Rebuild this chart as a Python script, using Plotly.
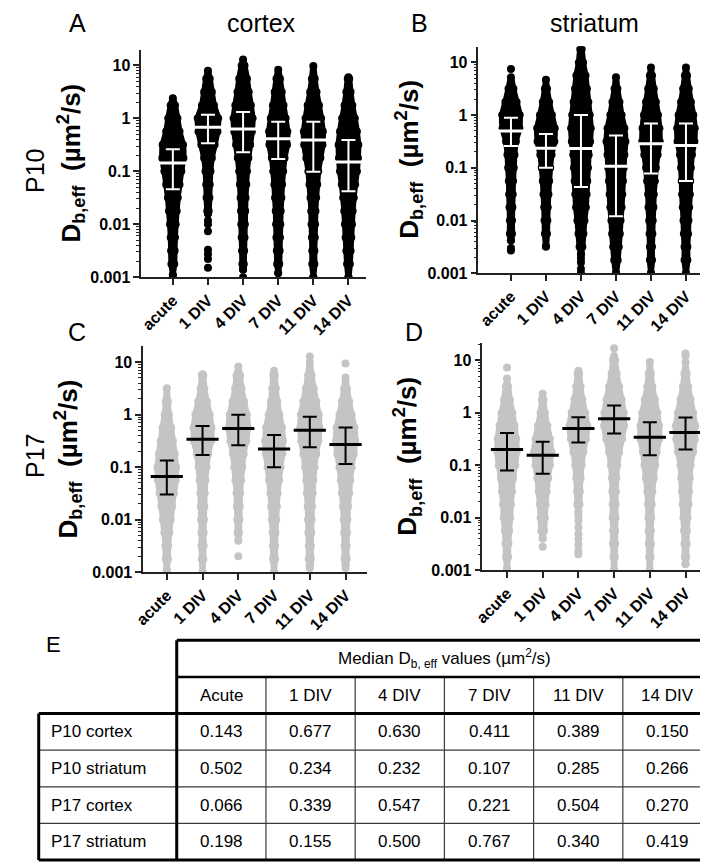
import math
import plotly.graph_objects as go

W, H = 708, 866
FONT = "Liberation Sans, Arial, Helvetica, sans-serif"
N = None

CATEGORIES = ["acute", "1 DIV", "4 DIV", "7 DIV", "11 DIV", "14 DIV"]
TABLE_COLS = ["Acute", "1 DIV", "4 DIV", "7 DIV", "11 DIV", "14 DIV"]
TABLE_ROWS = ["P10 cortex", "P10 striatum", "P17 cortex", "P17 striatum"]
Y_TICKS = [0.001, 0.01, 0.1, 1, 10]
Y_TICKTEXT = ["0.001", "0.01", "0.1", "1", "10"]

# log10 levels at which the swarm half-widths (in category units) were read
LOG_LEVELS = [-3.0, -2.75, -2.5, -2.25, -2.0, -1.75, -1.5, -1.25, -1.0,
              -0.75, -0.5, -0.25, 0.0, 0.25, 0.5, 0.75, 1.0, 1.25]

# ---------------- P10 cortex (A) ----------------
P10_CTX_MEDIAN = [0.143, 0.677, 0.630, 0.411, 0.389, 0.150]
P10_CTX_Q1 = [0.046, 0.34, 0.23, 0.17, 0.098, 0.042]
P10_CTX_Q3 = [0.26, 1.17, 1.32, 0.86, 0.86, 0.39]
P10_CTX_LOW = [0.0011, 0.016, 0.0014, 0.0012, 0.001, 0.001]
P10_CTX_HIGH = [2.4, 7.9, 13.0, 8.3, 9.8, 6.0]
P10_CTX_WIDTH = [
    [0.09, 0.10, 0.11, 0.12, 0.14, 0.17, 0.20, 0.25, 0.30, 0.36, 0.35, 0.25, 0.19, 0.12, N, N, N, N],
    [N, N, N, N, N, 0.08, 0.10, 0.11, 0.13, 0.17, 0.25, 0.33, 0.35, 0.23, 0.17, 0.11, N, N],
    [N, 0.08, 0.09, 0.10, 0.11, 0.12, 0.13, 0.15, 0.17, 0.21, 0.26, 0.31, 0.33, 0.28, 0.22, 0.17, 0.10, N],
    [N, 0.09, 0.10, 0.11, 0.12, 0.13, 0.15, 0.17, 0.20, 0.24, 0.31, 0.32, 0.27, 0.21, 0.16, 0.11, N, N],
    [N, 0.09, 0.09, 0.10, 0.11, 0.12, 0.14, 0.17, 0.20, 0.26, 0.32, 0.33, 0.28, 0.22, 0.15, 0.10, N, N],
    [N, 0.10, 0.12, 0.14, 0.16, 0.18, 0.21, 0.25, 0.30, 0.33, 0.34, 0.30, 0.24, 0.17, 0.12, 0.08, N, N],
]
P10_CTX_OUTLIERS = [[], [0.0118, 0.010, 0.0074, 0.0033, 0.0027, 0.0022, 0.0015], [0.001], [], [], []]

# ---------------- P10 striatum (B) ----------------
P10_STR_MEDIAN = [0.502, 0.234, 0.232, 0.107, 0.285, 0.266]
P10_STR_Q1 = [0.26, 0.10, 0.043, 0.012, 0.078, 0.056]
P10_STR_Q3 = [0.89, 0.44, 1.0, 0.41, 0.69, 0.69]
P10_STR_LOW = [0.0042, 0.0032, 0.0023, 0.001, 0.001, 0.001]
P10_STR_HIGH = [5.2, 4.7, 18.0, 5.2, 8.0, 8.0]
P10_STR_WIDTH = [
    [N, N, N, 0.09, 0.09, 0.10, 0.11, 0.12, 0.14, 0.16, 0.20, 0.30, 0.31, 0.22, 0.13, N, N, N],
    [N, N, N, 0.09, 0.10, 0.11, 0.13, 0.15, 0.18, 0.22, 0.30, 0.31, 0.23, 0.15, 0.09, N, N, N],
    [N, N, 0.10, 0.13, 0.16, 0.20, 0.22, 0.24, 0.26, 0.28, 0.32, 0.34, 0.31, 0.27, 0.23, 0.19, 0.12, 0.08],
    [N, 0.11, 0.14, 0.17, 0.19, 0.22, 0.24, 0.26, 0.28, 0.30, 0.33, 0.30, 0.22, 0.16, 0.10, N, N, N],
    [N, 0.09, 0.09, 0.10, 0.11, 0.13, 0.14, 0.17, 0.20, 0.25, 0.31, 0.30, 0.26, 0.20, 0.14, 0.09, N, N],
    [N, 0.10, 0.10, 0.12, 0.13, 0.15, 0.17, 0.18, 0.20, 0.23, 0.30, 0.31, 0.27, 0.20, 0.14, 0.09, N, N],
]
P10_STR_OUTLIERS = [[7.5, 0.003, 0.0027], [], [0.0019, 0.0016, 0.0012, 0.001], [], [], []]

# ---------------- P17 cortex (C) ----------------
P17_CTX_MEDIAN = [0.066, 0.339, 0.547, 0.221, 0.504, 0.270]
P17_CTX_Q1 = [0.030, 0.17, 0.26, 0.10, 0.24, 0.115]
P17_CTX_Q3 = [0.134, 0.61, 1.0, 0.41, 0.91, 0.57]
P17_CTX_LOW = [0.0011, 0.001, 0.004, 0.001, 0.0014, 0.0014]
P17_CTX_HIGH = [3.2, 5.9, 8.3, 6.9, 10.0, 5.1]
P17_CTX_WIDTH = [
    [N, 0.09, 0.10, 0.13, 0.17, 0.21, 0.26, 0.31, 0.32, 0.28, 0.23, 0.18, 0.12, 0.09, N, N, N, N],
    [N, 0.08, 0.09, 0.09, 0.10, 0.11, 0.12, 0.14, 0.17, 0.22, 0.30, 0.31, 0.26, 0.18, 0.11, 0.08, N, N],
    [N, N, N, 0.08, 0.09, 0.10, 0.11, 0.14, 0.17, 0.21, 0.28, 0.33, 0.30, 0.22, 0.15, 0.11, N, N],
    [N, 0.09, 0.09, 0.10, 0.12, 0.14, 0.16, 0.20, 0.24, 0.29, 0.31, 0.28, 0.21, 0.15, 0.11, 0.08, N, N],
    [N, 0.09, 0.09, 0.10, 0.11, 0.12, 0.14, 0.16, 0.19, 0.24, 0.30, 0.33, 0.31, 0.24, 0.17, 0.11, N, N],
    [N, 0.09, 0.09, 0.10, 0.11, 0.13, 0.16, 0.19, 0.23, 0.29, 0.33, 0.31, 0.23, 0.16, 0.10, N, N, N],
]
P17_CTX_OUTLIERS = [[], [], [0.002], [], [12.8, 0.0012], [9.4, 0.0012]]

# ---------------- P17 striatum (D) ----------------
P17_STR_MEDIAN = [0.198, 0.155, 0.500, 0.767, 0.340, 0.419]
P17_STR_Q1 = [0.079, 0.069, 0.27, 0.40, 0.155, 0.20]
P17_STR_Q3 = [0.41, 0.28, 0.82, 1.38, 0.66, 0.81]
P17_STR_LOW = [0.0011, 0.004, 0.013, 0.001, 0.001, 0.0013]
P17_STR_HIGH = [3.5, 2.3, 6.3, 12.0, 9.3, 9.1]
P17_STR_WIDTH = [
    [N, 0.09, 0.10, 0.12, 0.15, 0.17, 0.20, 0.23, 0.29, 0.33, 0.32, 0.27, 0.21, 0.14, 0.09, N, N, N],
    [N, N, N, 0.10, 0.12, 0.14, 0.17, 0.21, 0.26, 0.30, 0.26, 0.19, 0.12, 0.08, N, N, N, N],
    [N, N, N, N, N, 0.09, 0.10, 0.12, 0.15, 0.20, 0.27, 0.31, 0.25, 0.17, 0.12, 0.08, N, N],
    [N, 0.08, 0.09, 0.09, 0.10, 0.10, 0.11, 0.12, 0.15, 0.20, 0.28, 0.34, 0.33, 0.27, 0.20, 0.13, 0.09, N],
    [N, 0.08, 0.09, 0.09, 0.10, 0.11, 0.13, 0.17, 0.21, 0.25, 0.32, 0.32, 0.27, 0.20, 0.13, 0.09, N, N],
    [N, 0.08, 0.09, 0.10, 0.12, 0.14, 0.16, 0.18, 0.20, 0.27, 0.32, 0.33, 0.27, 0.20, 0.13, 0.09, N, N],
]
P17_STR_OUTLIERS = [[7.3, 4.5], [0.0028], [0.0107, 0.0087, 0.0065, 0.0049, 0.0039, 0.003, 0.0023, 0.002],
                    [17.0], [], [13.5, 12.0]]

BLACK = "#000000"
GREY = "#c4c4c4"
WHITE = "#ffffff"
DOT = 8          # dot diameter (px)
DOT_R = 0.06     # inset of the outline in category units
EDGE_W = 6       # outline stroke (px)


def px_x(p):
    return p / W


def px_y(p):
    return 1 - p / H


def outline(i, low, high, widths):
    lo, hi = math.log10(low), math.log10(high)
    pts = [(L, w) for L, w in zip(LOG_LEVELS, widths) if w is not None and lo < L < hi]
    xs, ys = [i], [low]
    for L, w in pts:
        xs.append(i + max(w - DOT_R, 0.0))
        ys.append(10 ** L)
    xs.append(i)
    ys.append(high)
    for L, w in reversed(pts):
        xs.append(i - max(w - DOT_R, 0.0))
        ys.append(10 ** L)
    xs.append(i)
    ys.append(low)
    return xs, ys


PANELS = [
    dict(sfx="", xd=(125, 353), yd=(42, 272), xr=(-0.9, 5.5), ytop=1.30,
         med=P10_CTX_MEDIAN, q1=P10_CTX_Q1, q3=P10_CTX_Q3, low=P10_CTX_LOW, high=P10_CTX_HIGH,
         wid=P10_CTX_WIDTH, out=P10_CTX_OUTLIERS, col=BLACK, bar=WHITE),
    dict(sfx="2", xd=(467, 707), yd=(39, 268), xr=(-0.93, 5.83), ytop=1.30,
         med=P10_STR_MEDIAN, q1=P10_STR_Q1, q3=P10_STR_Q3, low=P10_STR_LOW, high=P10_STR_HIGH,
         wid=P10_STR_WIDTH, out=P10_STR_OUTLIERS, col=BLACK, bar=WHITE),
    dict(sfx="3", xd=(127, 354), yd=(342, 570), xr=(-0.66, 5.6), ytop=1.30,
         med=P17_CTX_MEDIAN, q1=P17_CTX_Q1, q3=P17_CTX_Q3, low=P17_CTX_LOW, high=P17_CTX_HIGH,
         wid=P17_CTX_WIDTH, out=P17_CTX_OUTLIERS, col=GREY, bar=BLACK),
    dict(sfx="4", xd=(471, 697), yd=(339, 568), xr=(-0.69, 5.55), ytop=1.32,
         med=P17_STR_MEDIAN, q1=P17_STR_Q1, q3=P17_STR_Q3, low=P17_STR_LOW, high=P17_STR_HIGH,
         wid=P17_STR_WIDTH, out=P17_STR_OUTLIERS, col=GREY, bar=BLACK),
]

fig = go.Figure()
layout = dict(
    width=W, height=H, margin=dict(l=0, r=0, t=0, b=0),
    paper_bgcolor="white", plot_bgcolor="rgba(0,0,0,0)", showlegend=False,
    font=dict(family=FONT, color="black"),
)

MINOR = [m * 10.0 ** e for e in range(-3, 2) for m in range(2, 10)]

for p in PANELS:
    xa, ya = "x" + p["sfx"], "y" + p["sfx"]
    for i in range(len(CATEGORIES)):
        xs, ys = outline(i, p["low"][i], p["high"][i], p["wid"][i])
        fig.add_trace(go.Scatter(
            x=xs, y=ys, xaxis=xa, yaxis=ya, mode="lines+markers", fill="toself",
            fillcolor=p["col"], line=dict(color=p["col"], width=EDGE_W, shape="spline", smoothing=0.6),
            marker=dict(size=DOT, color=p["col"], line=dict(width=0)),
            hoverinfo="skip"))
    ox, oy = [], []
    for i, vals in enumerate(p["out"]):
        ox += [i] * len(vals)
        oy += vals
    fig.add_trace(go.Scatter(x=ox, y=oy, xaxis=xa, yaxis=ya, mode="markers",
                             marker=dict(size=DOT, color=p["col"], line=dict(width=0)),
                             hoverinfo="skip"))
    fig.add_trace(go.Scatter(
        x=list(range(len(CATEGORIES))), y=p["med"], xaxis=xa, yaxis=ya, mode="markers",
        marker=dict(symbol="line-ew", size=23, color=p["bar"], line=dict(width=3, color=p["bar"])),
        error_y=dict(type="data", symmetric=False,
                     array=[h - m for h, m in zip(p["q3"], p["med"])],
                     arrayminus=[m - l for m, l in zip(p["med"], p["q1"])],
                     width=7, thickness=2, color=p["bar"]),
        hoverinfo="skip"))
    xkey = "xaxis" + p["sfx"]
    ykey = "yaxis" + p["sfx"]
    layout[xkey] = dict(
        domain=[px_x(p["xd"][0]), px_x(p["xd"][1])], range=list(p["xr"]), anchor=ya,
        tickmode="array", tickvals=list(range(len(CATEGORIES))), ticktext=CATEGORIES,
        tickangle=-45, ticks="outside", ticklen=6, tickwidth=1.5, tickcolor="#222",
        showline=True, linecolor="#222", linewidth=1.5, showgrid=False, zeroline=False,
        tickfont=dict(family=FONT, size=16, weight="bold", color="black"), fixedrange=True)
    layout[ykey] = dict(
        domain=[px_y(p["yd"][1]), px_y(p["yd"][0])], type="log", range=[-3, p["ytop"]], anchor=xa,
        tickmode="array", tickvals=Y_TICKS, ticktext=Y_TICKTEXT,
        ticks="outside", ticklen=6, tickwidth=1.5, tickcolor="#222",
        minor=dict(tickmode="array", tickvals=MINOR, ticks="outside", ticklen=3, tickwidth=1, tickcolor="#222"),
        showline=True, linecolor="#222", linewidth=1.5, showgrid=False, zeroline=False,
        tickfont=dict(family=FONT, size=16, weight="bold", color="black"), fixedrange=True)

# ---------------- table (E) ----------------
TABLE_VALUES = [P10_CTX_MEDIAN, P10_STR_MEDIAN, P17_CTX_MEDIAN, P17_STR_MEDIAN]
LABEL_W = 1.547
COL_PX = 90.5
ROW_PX = 37.0
PADX, PADY = 0.04, 0.1
layout["xaxis5"] = dict(domain=[px_x(21 - PADX * COL_PX), px_x(704 + PADX * COL_PX)],
                        range=[-LABEL_W - PADX, 6 + PADX], visible=False, anchor="y5", fixedrange=True)
layout["yaxis5"] = dict(domain=[px_y(861 + PADY * ROW_PX), px_y(639 - PADY * ROW_PX)],
                        range=[6 + PADY, -PADY], visible=False, anchor="x5", fixedrange=True)

THIN = dict(color="#3a3a3a", width=1.2)
THICK = dict(color="black", width=3)
shapes = []


def seg(x0, y0, x1, y1, line):
    shapes.append(dict(type="line", xref="x5", yref="y5", x0=x0, y0=y0, x1=x1, y1=y1,
                       line=line, layer="above"))


for c in range(1, 6):
    seg(c, 1, c, 6, THIN)
for r in range(3, 6):
    seg(-LABEL_W, r, 6, r, THIN)
seg(0, 1, 6, 1, dict(color="black", width=2.5))
seg(0, 0, 6, 0, THICK)
seg(0, 0, 0, 6, THICK)
seg(6, 0, 6, 6, THICK)
seg(-LABEL_W, 2, 6, 2, THICK)
seg(-LABEL_W, 6, 6, 6, THICK)
seg(-LABEL_W, 2, -LABEL_W, 6, THICK)
layout["shapes"] = shapes

TFONT = dict(family=FONT, size=17, color="black")
ann = []
ann.append(dict(xref="x5", yref="y5", x=3, y=0.5, showarrow=False, font=TFONT,
                text="Median D<sub>b, eff</sub> values (\u00b5m<sup>2</sup>/s)"))
for c, name in enumerate(TABLE_COLS):
    ann.append(dict(xref="x5", yref="y5", x=c + 0.5, y=1.5, text=name, showarrow=False, font=TFONT))
for r, (name, vals) in enumerate(zip(TABLE_ROWS, TABLE_VALUES)):
    ann.append(dict(xref="x5", yref="y5", x=-LABEL_W, y=r + 2.5, text=name, showarrow=False,
                    xanchor="left", xshift=10, font=TFONT))
    for c, v in enumerate(vals):
        ann.append(dict(xref="x5", yref="y5", x=c + 0.5, y=r + 2.5, text=f"{v:.3f}",
                        showarrow=False, font=TFONT))


def label(x, y, text, size, angle=0, weight="normal"):
    ann.append(dict(xref="paper", yref="paper", x=px_x(x), y=px_y(y), text=text, showarrow=False,
                    textangle=angle, xanchor="center", yanchor="middle",
                    font=dict(family=FONT, size=size, color="black", weight=weight)))


label(60, 15, "A", 25)
label(407, 15, "B", 25)
label(60, 327, "C", 25)
label(402, 327, "D", 25)
label(36, 643, "E", 22)
label(247, 15, "cortex", 25)
label(585, 15, "striatum", 25)
label(18, 165, "P10", 25, angle=-90)
label(18, 453, "P17", 25, angle=-90)
YLAB = "D<sub>b,eff</sub>\u00a0\u00a0(\u00b5m<sup>2</sup>/s)"
label(54, 157, YLAB, 26, angle=-90, weight="bold")
label(397, 153, YLAB, 26, angle=-90, weight="bold")
label(51, 456, YLAB, 26, angle=-90, weight="bold")
label(395, 453, YLAB, 26, angle=-90, weight="bold")

layout["annotations"] = ann
fig.update_layout(**layout)
fig.write_html("out.html")
